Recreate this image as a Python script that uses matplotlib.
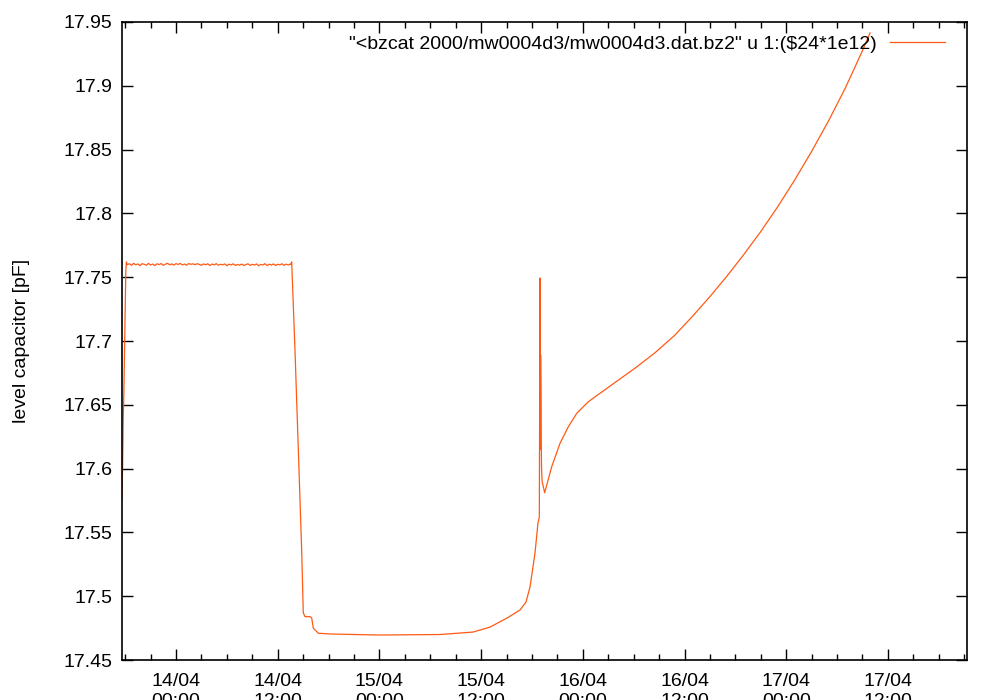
import matplotlib
matplotlib.use("Agg")
import matplotlib.pyplot as plt
import matplotlib.dates as mdates
from datetime import datetime, timedelta

plt.rcParams['font.family'] = ['Liberation Sans', 'DejaVu Sans']

# ---- data (hours relative to 14/04/2000 00:00) ----
# start-up
start_hours = [-6.40, -6.30, -6.22, -6.15, -6.05, -5.92, -5.85]
start_values = [17.575, 17.600, 17.640, 17.660, 17.700, 17.755, 17.762]

# noisy plateau, read every 0.25 h
plateau_hours = [-5.75, -5.50, -5.25, -5.00, -4.75, -4.50, -4.25, -4.00, -3.75, -3.50,
                 -3.25, -3.00, -2.75, -2.50, -2.25, -2.00, -1.75, -1.50, -1.25, -1.00,
                 -0.75, -0.50, -0.25, 0.00, 0.25, 0.50, 0.75, 1.00, 1.25, 1.50,
                 1.75, 2.00, 2.25, 2.50, 2.75, 3.00, 3.25, 3.50, 3.75, 4.00,
                 4.25, 4.50, 4.75, 5.00, 5.25, 5.50, 5.75, 6.00, 6.25, 6.50,
                 6.75, 7.00, 7.25, 7.50, 7.75, 8.00, 8.25, 8.50, 8.75, 9.00,
                 9.25, 9.50, 9.75, 10.00, 10.25, 10.50, 10.75, 11.00, 11.25, 11.50,
                 11.75, 12.00, 12.25, 12.50, 12.75, 13.00, 13.25, 13.50]
plateau_values = [17.7598, 17.7606, 17.7593, 17.7609, 17.7597, 17.7604, 17.7590, 17.7606, 17.7601, 17.7594,
                  17.7608, 17.7596, 17.7603, 17.7591, 17.7605, 17.7599, 17.7607, 17.7593, 17.7602, 17.7609,
                  17.7597, 17.7604, 17.7595, 17.7606, 17.7600, 17.7608, 17.7596, 17.7603, 17.7594, 17.7607,
                  17.7601, 17.7605, 17.7598, 17.7606, 17.7600, 17.7593, 17.7604, 17.7598, 17.7605, 17.7592,
                  17.7603, 17.7597, 17.7606, 17.7594, 17.7601, 17.7597, 17.7604, 17.7590, 17.7602, 17.7596,
                  17.7605, 17.7592, 17.7600, 17.7594, 17.7603, 17.7591, 17.7599, 17.7605, 17.7592, 17.7601,
                  17.7595, 17.7604, 17.7590, 17.7600, 17.7596, 17.7606, 17.7591, 17.7602, 17.7595, 17.7604,
                  17.7592, 17.7601, 17.7597, 17.7605, 17.7593, 17.7602, 17.7596, 17.7603]

# drop, floor, slow rise and spike
drop_hours = [13.57, 13.65, 14.04, 14.43, 14.83, 15.02, 15.22, 15.81, 16.01, 16.20,
              16.79, 18.17, 24.07, 31.15, 35.04, 37.05, 39.06, 40.59, 41.30, 41.77,
              42.36, 42.71, 42.87, 42.95, 42.99, 43.02, 43.07, 43.10, 43.13, 43.20]
drop_values = [17.7600, 17.7620, 17.6930, 17.6150, 17.5360, 17.4870, 17.4840, 17.4840, 17.4830, 17.4750,
               17.4710, 17.4704, 17.4696, 17.4700, 17.4719, 17.4758, 17.4829, 17.4892, 17.4955, 17.5072,
               17.5339, 17.5574, 17.5621, 17.7494, 17.6150, 17.6890, 17.6561, 17.6200, 17.6000, 17.5900]

# recovery and final rise
rise_hours = [43.50, 44.33, 45.31, 46.29, 47.28, 48.65, 50.23, 51.80, 54.16, 56.52,
              58.88, 61.00, 63.00, 65.00, 67.00, 69.00, 71.00, 73.00, 75.00, 77.00,
              79.00, 81.00, 81.89]
rise_values = [17.5811, 17.6015, 17.6198, 17.6328, 17.6433, 17.6524, 17.6600, 17.6675, 17.6787, 17.6908,
               17.7047, 17.7198, 17.7348, 17.7508, 17.7678, 17.7858, 17.8052, 17.8262, 17.8486, 17.8726,
               17.8986, 17.9276, 17.9414]

legend_label = '"<bzcat 2000/mw0004d3/mw0004d3.dat.bz2" u 1:($24*1e12)'
y_label = 'level capacitor [pF]'
y_ticks = [17.45, 17.5, 17.55, 17.6, 17.65, 17.7, 17.75, 17.8, 17.85, 17.9, 17.95]
y_tick_labels = ['17.45', '17.5', '17.55', '17.6', '17.65', '17.7', '17.75', '17.8', '17.85', '17.9', '17.95']

hours = start_hours + plateau_hours + drop_hours + rise_hours
values = start_values + plateau_values + drop_values + rise_values

t0 = datetime(2000, 4, 14, 0, 0)
times = [t0 + timedelta(hours=h) for h in hours]

fig = plt.figure(figsize=(10, 7), dpi=100)
ax = fig.add_axes([0.122, 0.0571, 0.845, 0.9115])
color = '#ff5a14'
ax.plot(times, values, color=color, linewidth=0.9, label=legend_label)

ax.set_ylim(17.45, 17.95)
ax.set_xlim(t0 + timedelta(hours=-6.37), t0 + timedelta(hours=93.33))
ax.set_yticks(y_ticks)
ax.set_yticklabels(y_tick_labels)
ax.xaxis.set_major_locator(mdates.HourLocator(byhour=[0, 12]))
ax.xaxis.set_minor_locator(mdates.HourLocator(byhour=[3, 6, 9, 15, 18, 21]))
ax.xaxis.set_major_formatter(mdates.DateFormatter('%d/%m\n%H:%M'))

ax.tick_params(axis='both', which='major', direction='in', length=8, width=1.0,
               top=True, right=True, labelsize=14, colors='black')
ax.tick_params(axis='x', which='major', pad=9)
ax.tick_params(axis='y', which='major', pad=7)
ax.tick_params(axis='x', which='minor', direction='in', length=4, width=1.0, top=True, bottom=True)
for lab in ax.get_xticklabels():
    lab.set_linespacing(1.25)
for s in ax.spines.values():
    s.set_linewidth(1.2)

ax.set_ylabel(y_label, fontsize=14, labelpad=24)

leg = ax.legend(loc='upper right', frameon=False, fontsize=14, handlelength=2.85,
                handletextpad=0.65, markerfirst=False, borderaxespad=0.3,
                bbox_to_anchor=(0.99, 1.0))

fig.savefig('out.png', dpi=100)
